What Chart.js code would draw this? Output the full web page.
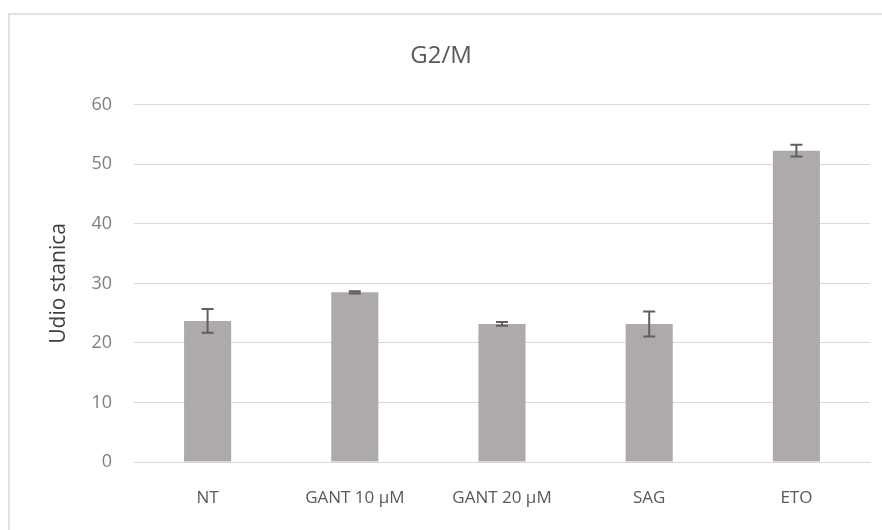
<!DOCTYPE html>
<html>
<head>
<meta charset="utf-8">
<script src="https://cdn.jsdelivr.net/npm/chart.js@4"></script>
<style>
  body { margin: 0; background: #fff; }
  #wrap { position: relative; width: 882px; height: 530px; }
  #frame { position: absolute; left: 8px; top: 13px; width: 900px; height: 600px;
           border: 2px solid #e2e2e2; pointer-events: none; }
</style>
</head>
<body>
<div id="wrap">
  <canvas id="chart" width="882" height="530"></canvas>
  <div id="frame"></div>
</div>
<script>
const categories = ["NT", "GANT 10 µM", "GANT 20 µM", "SAG", "ETO"];
const values = [23.7, 28.5, 23.2, 23.2, 52.3];
const errors = [2.0, 0.2, 0.3, 2.1, 1.0];
const yTicks = [0, 10, 20, 30, 40, 50, 60];

const fontFamily = "'Open Sans', sans-serif";

const errorBars = {
  id: 'errorBars',
  afterDatasetsDraw(chart) {
    const ctx = chart.ctx;
    const y = chart.scales.y;
    const meta = chart.getDatasetMeta(0);
    ctx.save();
    ctx.strokeStyle = '#5f5f5f';
    ctx.lineWidth = 2;
    meta.data.forEach(function (bar, i) {
      const top = y.getPixelForValue(values[i] + errors[i]);
      const bot = y.getPixelForValue(values[i] - errors[i]);
      const x = bar.x;
      ctx.beginPath();
      ctx.moveTo(x, top); ctx.lineTo(x, bot);
      ctx.moveTo(x - 6, top); ctx.lineTo(x + 6, top);
      ctx.moveTo(x - 6, bot); ctx.lineTo(x + 6, bot);
      ctx.stroke();
    });
    ctx.restore();
  }
};

const data = {
  labels: categories,
  datasets: [
    {
      label: 'G2/M',
      data: values,
      backgroundColor: '#aeaaaa',
      categoryPercentage: 1.0,
      barPercentage: 0.32,
    }
  ]
};

const config = {
  type: 'bar',
  data: data,
  plugins: [errorBars],
  options: {
    responsive: false,
    animation: false,
    layout: { padding: { left: 12, right: 12, top: 0, bottom: 0 } },
    plugins: {
      legend: { display: false },
      tooltip: { enabled: false },
      title: {
        display: true,
        text: 'G2/M',
        color: '#595959',
        font: { family: fontFamily, size: 24, weight: 'normal' },
        padding: { top: 42, bottom: 34 }
      },
    },
    scales: {
      x: {
        grid: { display: false, drawTicks: false },
        border: { display: true, color: '#d9d9d9', width: 1 },
        ticks: {
          color: '#595959',
          padding: 26,
          maxRotation: 0,
          font: { family: fontFamily, size: 17 }
        },
        afterFit(scale) { scale.height = 68; }
      },
      y: {
        min: 0,
        max: 60,
        afterBuildTicks(scale) { scale.ticks = yTicks.map(v => ({ value: v })); },
        grid: { color: '#d9d9d9', drawTicks: false },
        border: { display: false },
        ticks: {
          color: '#7f7f7f',
          padding: 22,
          font: { family: fontFamily, size: 18 }
        },
        title: {
          display: true,
          text: 'Udio stanica',
          color: '#404040',
          padding: { top: 34, bottom: 0 },
          font: { family: fontFamily, size: 21 }
        },
        afterFit(scale) { scale.width = 122; }
      }
    }
  }
};

const ctx = document.getElementById('chart').getContext('2d');
const myChart = new Chart(ctx, config);
</script>
</body>
</html>
